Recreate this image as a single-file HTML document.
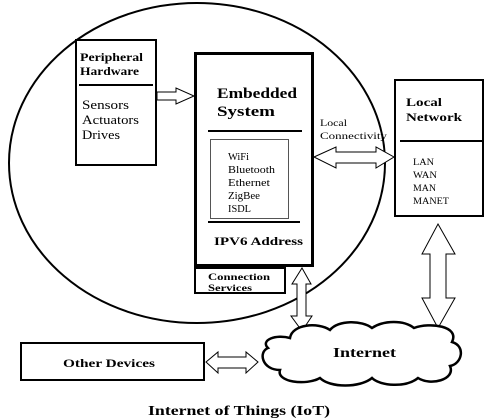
<!DOCTYPE html>
<html><head><style>
html,body{margin:0;padding:0;background:#fff;}
svg{display:block;}
text{font-family:"Liberation Serif",serif;fill:#000;}
.b{font-weight:bold;}
</style></head><body>
<svg width="492" height="420" viewBox="0 0 492 420" xmlns="http://www.w3.org/2000/svg">
<ellipse cx="197" cy="163" rx="188" ry="160" fill="none" stroke="#000" stroke-width="2"/>
<!-- Peripheral -->
<rect x="76" y="40" width="80" height="125" fill="#fff" stroke="#000" stroke-width="2"/>
<line x1="79" y1="85" x2="153" y2="85" stroke="#000" stroke-width="2"/>
<text x="80" y="61" font-size="12" class="b" textLength="63" lengthAdjust="spacingAndGlyphs">Peripheral</text>
<text x="80" y="75" font-size="12" class="b" textLength="59" lengthAdjust="spacingAndGlyphs">Hardware</text>
<text x="82" y="109" font-size="13" fill="#222" textLength="47" lengthAdjust="spacingAndGlyphs">Sensors</text>
<text x="82" y="124" font-size="13" fill="#222" textLength="57" lengthAdjust="spacingAndGlyphs">Actuators</text>
<text x="82" y="139" font-size="13" fill="#222" textLength="38" lengthAdjust="spacingAndGlyphs">Drives</text>
<!-- arrow peripheral->embedded -->
<polygon points="157,92 176,92 176,88 194,96 176,104 176,100 157,100" fill="#fff" stroke="#000" stroke-width="1"/>
<!-- Embedded -->
<rect x="195.5" y="53.5" width="117" height="212" fill="#fff" stroke="#000" stroke-width="3"/>
<text x="217" y="98" font-size="15" class="b" textLength="80" lengthAdjust="spacingAndGlyphs">Embedded</text>
<text x="217" y="116" font-size="15" class="b" textLength="58" lengthAdjust="spacingAndGlyphs">System</text>
<line x1="208" y1="131" x2="302" y2="131" stroke="#000" stroke-width="2"/>
<rect x="210.5" y="139.5" width="78" height="79" fill="#fff" stroke="#555" stroke-width="1"/>
<text x="228" y="160" font-size="10" textLength="21" lengthAdjust="spacingAndGlyphs">WiFi</text>
<text x="228" y="173" font-size="10" textLength="47" lengthAdjust="spacingAndGlyphs">Bluetooth</text>
<text x="228" y="186" font-size="10" textLength="42" lengthAdjust="spacingAndGlyphs">Ethernet</text>
<text x="228" y="199" font-size="10" textLength="32" lengthAdjust="spacingAndGlyphs">ZigBee</text>
<text x="228" y="212" font-size="10" textLength="23" lengthAdjust="spacingAndGlyphs">ISDL</text>
<line x1="208" y1="222" x2="300" y2="222" stroke="#000" stroke-width="2"/>
<text x="214" y="245" font-size="12" class="b" textLength="89" lengthAdjust="spacingAndGlyphs">IPV6 Address</text>
<!-- Connection services -->
<rect x="195" y="268" width="90" height="25" fill="#fff" stroke="#000" stroke-width="2"/>
<text x="208" y="280" font-size="9.5" class="b" textLength="62" lengthAdjust="spacingAndGlyphs">Connection</text>
<text x="208" y="291" font-size="9.5" class="b" textLength="44" lengthAdjust="spacingAndGlyphs">Services</text>
<!-- vertical arrow near connection -->
<polygon points="302,268 311,284 306,284 306,316 312,316 302,331 291,316 297,316 297,284 292,284" fill="#fff" stroke="#000" stroke-width="1"/>
<!-- local connectivity -->
<text x="320" y="126" font-size="9.5" textLength="27" lengthAdjust="spacingAndGlyphs">Local</text>
<text x="320" y="139" font-size="9.5" textLength="67" lengthAdjust="spacingAndGlyphs">Connectivity</text>
<polygon points="314,157 336,147 336,152 376,152 376,147 394,157 376,168 376,163 336,163 336,168" fill="#fff" stroke="#000" stroke-width="1"/>
<!-- Local network -->
<rect x="395" y="80" width="88" height="136" fill="#fff" stroke="#000" stroke-width="2"/>
<line x1="400" y1="141" x2="483" y2="141" stroke="#000" stroke-width="2"/>
<text x="406" y="106" font-size="12" class="b" textLength="36" lengthAdjust="spacingAndGlyphs">Local</text>
<text x="406" y="121" font-size="12" class="b" textLength="56" lengthAdjust="spacingAndGlyphs">Network</text>
<text x="413" y="165" font-size="9.5" textLength="21" lengthAdjust="spacingAndGlyphs">LAN</text>
<text x="413" y="178" font-size="9.5" textLength="24" lengthAdjust="spacingAndGlyphs">WAN</text>
<text x="413" y="191" font-size="9.5" textLength="23" lengthAdjust="spacingAndGlyphs">MAN</text>
<text x="413" y="204" font-size="9.5" textLength="36" lengthAdjust="spacingAndGlyphs">MANET</text>
<!-- right vertical arrow -->
<polygon points="438,224 455,254 446,254 446,298 455,298 438,328 422,298 430,298 430,254 422,254" fill="#fff" stroke="#000" stroke-width="1"/>
<!-- cloud -->
<path d="M290,338 C292,324 318,322 330,330 C338,320 362,320 372,328 C384,320 404,320 414,328 C430,322 460,326 452,342 C466,346 462,364 450,366 C456,380 430,386 418,378 C406,388 380,386 372,378 C360,388 330,388 320,378 C306,386 276,382 280,370 C262,370 258,352 268,348 C260,340 276,334 290,338 Z" fill="#fff" stroke="#000" stroke-width="2.5"/>
<text x="333" y="357" font-size="14" class="b" textLength="63" lengthAdjust="spacingAndGlyphs">Internet</text>
<!-- other devices -->
<rect x="21" y="343" width="183" height="37" fill="#fff" stroke="#000" stroke-width="2"/>
<text x="63" y="367" font-size="12" class="b" textLength="92" lengthAdjust="spacingAndGlyphs">Other Devices</text>
<polygon points="206,362 218,352 218,357 246,357 246,352 258,362 246,373 246,368 218,368 218,373" fill="#fff" stroke="#000" stroke-width="1"/>
<text x="148" y="415" font-size="14" class="b" textLength="182" lengthAdjust="spacingAndGlyphs">Internet of Things (IoT)</text>
</svg>
</body></html>
